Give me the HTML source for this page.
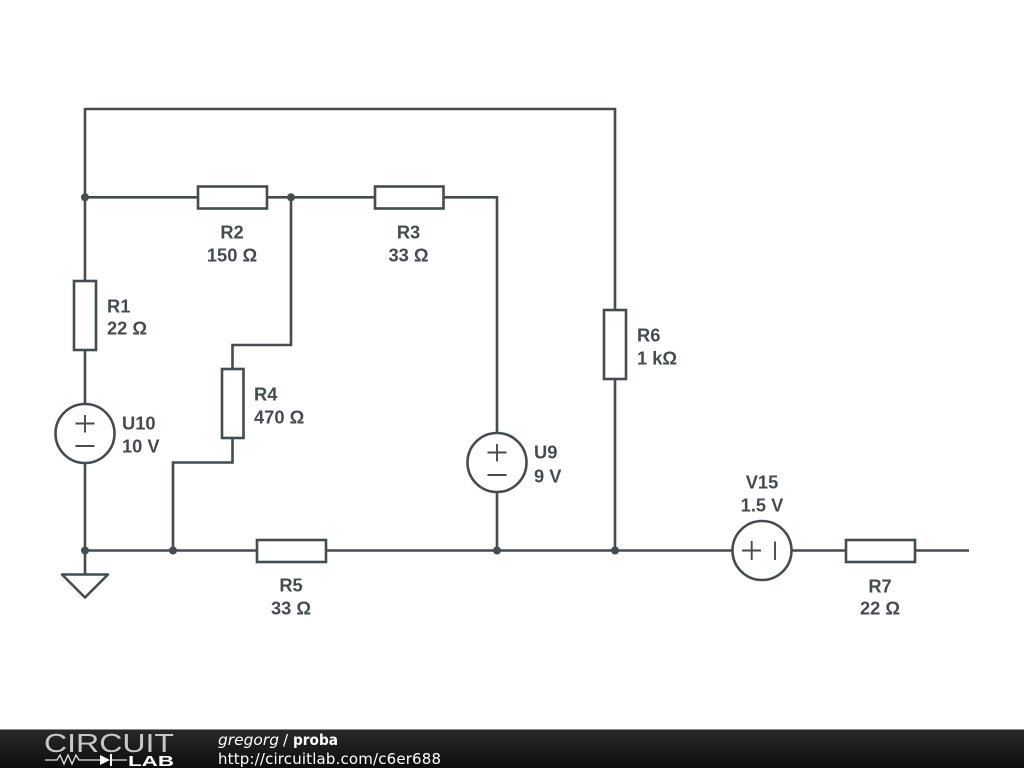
<!DOCTYPE html>
<html><head><meta charset="utf-8"><style>
html,body{margin:0;padding:0;background:#fff;width:1024px;height:768px;overflow:hidden}
svg{display:block}
</style></head><body>
<svg width="1024" height="768" viewBox="0 0 1024 768" xmlns="http://www.w3.org/2000/svg">
<defs><linearGradient id="g" x1="0" y1="0" x2="0" y2="1"><stop offset="0" stop-color="#2a2a2a"/><stop offset="1" stop-color="#0c0c0c"/></linearGradient></defs>
<rect width="1024" height="768" fill="#fff"/>
<g fill="none" stroke="#444c50" stroke-width="2.6">
<path d="M85 281V109H615V310M615 379V550.500M85 197.300H198M267 197.300H375M443.500 197.300H497V433M291 197.300V345H232.500V369M232.500 438V462.500H173V550.500M85 350V404M85 463V574M85 550.500H257M326 550.500H733M792 550.500H846M915 550.500H969M497 492V550.500"/>
<rect x="198" y="186.500" width="69" height="22" fill="#fff"/>
<rect x="375" y="186.500" width="68.500" height="22" fill="#fff"/>
<rect x="74" y="281" width="22" height="69" fill="#fff"/>
<rect x="222" y="369" width="21.500" height="69" fill="#fff"/>
<rect x="604" y="310" width="22" height="69" fill="#fff"/>
<rect x="257" y="540" width="69" height="22" fill="#fff"/>
<rect x="846" y="540" width="69" height="22" fill="#fff"/>
<circle cx="85" cy="433.500" r="29.500" fill="#fff"/>
<circle cx="497" cy="462.500" r="29.500" fill="#fff"/>
<circle cx="762" cy="550.500" r="29.500" fill="#fff"/>
<path d="M62 574.500H108L85 597.500Z" stroke-linejoin="round"/>
<path stroke-width="1.900" d="M75.500 423.500H94.500M85 415V432.500M75.500 446H94.500M487.500 452.500H506.500M497 444V461.500M487.500 475H506.500M742 550.500H761M751.700 541V560M775 541.500V560"/>
</g>
<g fill="#444c50"><circle cx="85" cy="197.300" r="4"/><circle cx="291" cy="197.300" r="4"/><circle cx="85" cy="550.500" r="4"/><circle cx="173" cy="550.500" r="4"/><circle cx="497" cy="550.500" r="4"/><circle cx="615" cy="550.500" r="4"/></g>
<g font-family="'Liberation Sans',sans-serif" font-weight="700" font-size="18.300" fill="#444c50">
<g text-anchor="middle">
<text x="232" y="238.500">R2</text><text x="232" y="261.500">150 Ω</text>
<text x="408.500" y="238.500">R3</text><text x="408.500" y="261.500">33 Ω</text>
<text x="291" y="591.500">R5</text><text x="291" y="614.500">33 Ω</text>
<text x="880" y="592.500">R7</text><text x="880" y="614.500">22 Ω</text>
<text x="762" y="488.500">V15</text><text x="762" y="511.500">1.5 V</text>
</g>
<text x="107" y="312.500">R1</text><text x="107" y="334.500">22 Ω</text>
<text x="254" y="400.500">R4</text><text x="254" y="423.500">470 Ω</text>
<text x="637" y="341.500">R6</text><text x="637" y="364.500">1 kΩ</text>
<text x="122" y="429.500">U10</text><text x="122" y="452.500">10 V</text>
<text x="534" y="458.500">U9</text><text x="534" y="482.500">9 V</text>
</g>
<rect y="729" width="1024" height="39" fill="url(#g)"/>
<rect y="729" width="1024" height="1" fill="#8a8a8a"/>
<text x="44" y="752" font-family="'Liberation Sans',sans-serif" font-size="26" fill="#c8c8c8" textLength="130" lengthAdjust="spacingAndGlyphs">CIRCUIT</text>
<path d="M45 760H57L60 755L64 764L68 755L72 764L76 755L79 760H100M112 760H127" fill="none" stroke="#e4e4e4" stroke-width="1.300"/>
<path d="M100 755V765L110 760Z" fill="#fff"/><rect x="110" y="754" width="2" height="12" fill="#fff"/>
<text x="128" y="766" font-family="'Liberation Sans',sans-serif" font-weight="700" font-size="15" fill="#fff" textLength="46" lengthAdjust="spacingAndGlyphs">LAB</text>
<g font-family="'DejaVu Sans',sans-serif" font-size="15" fill="#fff">
<text x="218" y="745" font-style="italic" textLength="61" lengthAdjust="spacingAndGlyphs">gregorg</text>
<text x="283" y="745">/</text>
<text x="293" y="745" font-weight="700" textLength="45" lengthAdjust="spacingAndGlyphs">proba</text>
<text x="218" y="764" textLength="223">http://circuitlab.com/c6er688</text>
</g>
</svg>
</body></html>
